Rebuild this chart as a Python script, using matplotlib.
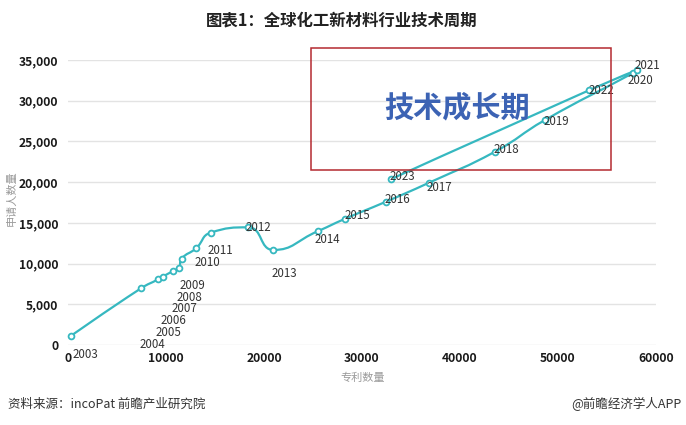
import numpy as np
import matplotlib
matplotlib.use('Agg')
import matplotlib.pyplot as plt
from matplotlib.path import Path
from matplotlib.patches import PathPatch, Rectangle

plt.rcParams['font.family'] = ['Noto Sans CJK SC', 'DejaVu Sans']

# ---------------- data ----------------
years = ['2003', '2004', '2005', '2006', '2007', '2008', '2009', '2010', '2011',
         '2012', '2013', '2014', '2015', '2016', '2017', '2018', '2019', '2020',
         '2021', '2022', '2023']
patents = [280, 7450, 9210, 9660, 10740, 11300, 11600, 13060, 14560,
           18400, 20950, 25460, 28270, 32450, 36840, 43570, 48670, 57650,
           58060, 53200, 32930]
applicants = [1100, 6960, 8070, 8390, 9090, 9420, 10600, 11870, 13800,
              14450, 11670, 13960, 15500, 17600, 19930, 23740, 27630, 33400,
              33770, 31300, 20350]
x_ticks = [0, 10000, 20000, 30000, 40000, 50000, 60000]
y_ticks = [0, 5000, 10000, 15000, 20000, 25000, 30000, 35000]

title = '图表1：全球化工新材料行业技术周期'
x_label = '专利数量'
y_label = '申请人数量'
stage_label = '技术成长期'
source = '资料来源：incoPat 前瞻产业研究院'
credit = '@前瞻经济学人APP'

# label offsets (pixels, dx right, dy down) - styling only
label_offsets = [(15, 18), (11, 56), (10, 53), (11, 44), (11, 38), (11, 29),
                 (11, 27), (11, 14), (10, 18), (10, 0), (11, 24), (10, 8),
                 (12, -3), (11, -2), (10, 5), (11, -2), (11, 1), (7, 7),
                 (10, -5), (12, 0), (12, -3)]

W, H = 686, 425
LINE = '#36B8C0'

fig = plt.figure(figsize=(W / 100, H / 100), dpi=100)
ax = fig.add_axes([68 / W, 1 - 345 / H, 588 / W, 285 / H])
ax.set_xlim(0, 60000)
ax.set_ylim(0, 35000)
ax.set_xticks(x_ticks)
ax.set_xticklabels([str(v) for v in x_ticks])
ax.set_yticks(y_ticks)
ax.set_yticklabels([f'{v:,}' for v in y_ticks])
for s in ax.spines.values():
    s.set_visible(False)
ax.tick_params(length=0, labelsize=8.7, colors='#1A1A1A')
ax.tick_params(axis='x', pad=5)
ax.tick_params(axis='y', pad=7)
for lab in ax.get_xticklabels() + ax.get_yticklabels():
    lab.set_fontweight('bold')
ax.grid(axis='y', color='#E3E3E3', lw=1)
ax.set_axisbelow(True)


def echarts_smooth(px, py, smooth=0.5):
    """Cubic bezier path like echarts smooth line (with extreme constraint)."""
    n = len(px)
    verts = [(px[0], py[0])]
    codes = [Path.MOVETO]
    cpx0, cpy0 = px[0], py[0]
    for i in range(1, n):
        x, y = px[i], py[i]
        prevX, prevY = px[i - 1], py[i - 1]
        if i == n - 1:
            cpx1, cpy1 = x, y
            ncx, ncy = x, y
        else:
            nextX, nextY = px[i + 1], py[i + 1]
            vx, vy = nextX - prevX, nextY - prevY
            lp = np.hypot(x - prevX, y - prevY)
            ln = np.hypot(nextX - x, nextY - y)
            r = ln / (ln + lp)
            ncx = x + vx * smooth * r
            ncy = y + vy * smooth * r
            ncx = min(ncx, max(nextX, x)); ncy = min(ncy, max(nextY, y))
            ncx = max(ncx, min(nextX, x)); ncy = max(ncy, min(nextY, y))
            vx, vy = ncx - x, ncy - y
            cpx1 = x - vx * lp / ln
            cpy1 = y - vy * lp / ln
            cpx1 = min(cpx1, max(prevX, x)); cpy1 = min(cpy1, max(prevY, y))
            cpx1 = max(cpx1, min(prevX, x)); cpy1 = max(cpy1, min(prevY, y))
            vx, vy = x - cpx1, y - cpy1
            ncx = x + vx * ln / lp
            ncy = y + vy * ln / lp
        verts += [(cpx0, cpy0), (cpx1, cpy1), (x, y)]
        codes += [Path.CURVE4] * 3
        cpx0, cpy0 = ncx, ncy
    return verts, codes


disp = ax.transData.transform(np.column_stack([patents, applicants]))
verts, codes = echarts_smooth(disp[:, 0], disp[:, 1])
verts_data = ax.transData.inverted().transform(np.array(verts))
ax.add_patch(PathPatch(Path(verts_data, codes), fill=False, edgecolor=LINE,
                       lw=1.6, zorder=3, clip_on=False))
ax.plot(patents, applicants, linestyle='none', marker='o', ms=4.2,
        mfc='white', mec=LINE, mew=1.3, zorder=4, clip_on=False)

for yr, xv, yv, (dx, dy) in zip(years, patents, applicants, label_offsets):
    ax.annotate(yr, (xv, yv), xytext=(dx * 0.72, -dy * 0.72),
                textcoords='offset points', ha='center', va='center',
                fontsize=8.3, color='#333333', zorder=5,
                annotation_clip=False)

# stage box
fig.patches.append(Rectangle((310.7 / W, 1 - 170 / H), 300 / W, 121.7 / H,
                             transform=fig.transFigure, fill=False,
                             edgecolor='#B42A30', lw=1.1, zorder=6))
fig.text(457 / W, 1 - 107 / H, stage_label, ha='center', va='center',
         fontsize=21, fontweight='bold', color='#3C63B4', zorder=7)

fig.text(342 / W, 1 - 20 / H, title, ha='center', va='center',
         fontsize=11.8, fontweight='bold', color='#222222')
fig.text(363 / W, 1 - 378 / H, x_label, ha='center', va='center',
         fontsize=8, color='#9A9A9A')
fig.text(12 / W, 1 - 198 / H, y_label, ha='center', va='center',
         rotation=90, fontsize=8, color='#9A9A9A')
fig.text(8 / W, 1 - 404 / H, source, ha='left', va='center',
         fontsize=9, color='#333333')
fig.text(682 / W, 1 - 404 / H, credit, ha='right', va='center',
         fontsize=9, color='#333333')

fig.savefig('out.png', dpi=100)
